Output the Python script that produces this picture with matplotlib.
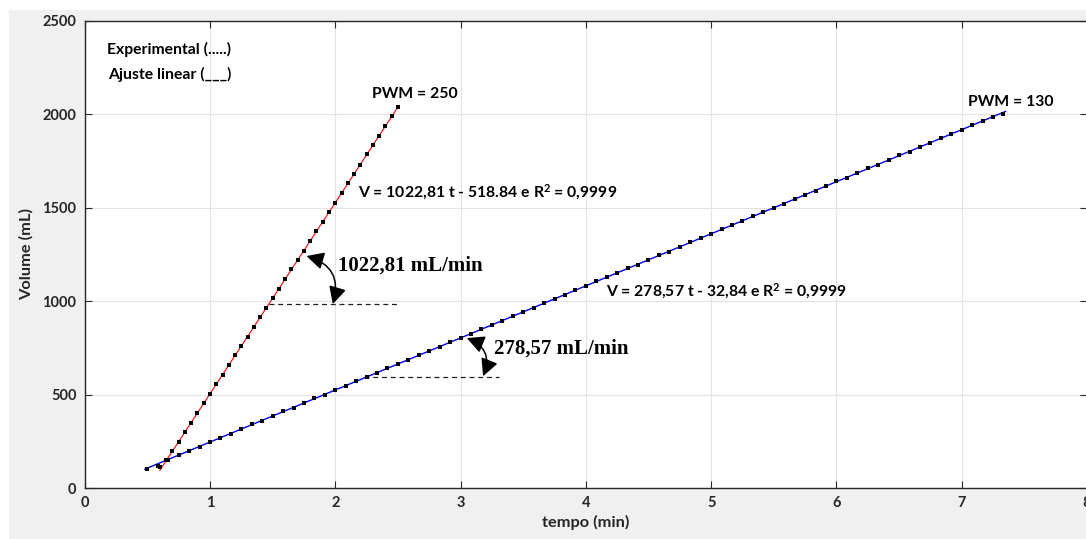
import matplotlib
matplotlib.use("Agg")
import matplotlib.pyplot as plt
from matplotlib.patches import FancyArrowPatch, Rectangle
import numpy as np

plt.rcParams["mathtext.fontset"] = "custom"
plt.rcParams["mathtext.rm"] = "Lato:bold"
plt.rcParams["mathtext.it"] = "Lato:bold"
plt.rcParams["mathtext.bf"] = "Lato:bold"

# ---------------- data ----------------
# PWM = 250 : experimental points (time in seconds, volume in mL)
t250_s = [36, 39, 42, 45, 48, 51, 54, 57, 60, 63, 66, 69, 72, 75, 78, 81, 84, 87, 90,
          93, 96, 99, 102, 105, 108, 111, 114, 117, 120, 123, 126, 129, 132, 135, 138,
          141, 144, 147, 150]
v250 = [110, 150, 200, 245, 300, 350, 400, 455, 505, 555, 605, 660, 710, 760, 810, 860,
        915, 965, 1015, 1065, 1120, 1170, 1220, 1270, 1320, 1375, 1425, 1475, 1525, 1580,
        1630, 1680, 1730, 1785, 1835, 1885, 1935, 1990, 2040]

# PWM = 130 : experimental points (time in seconds, volume in mL)
t130_s = [30, 35, 40, 45, 50, 55, 60, 65, 70, 75, 80, 85, 90, 95, 100, 105, 110, 115, 120,
          125, 130, 135, 140, 145, 150, 155, 160, 165, 170, 175, 180, 185, 190, 195, 200,
          205, 210, 215, 220, 225, 230, 235, 240, 245, 250, 255, 260, 265, 270, 275, 280,
          285, 290, 295, 300, 305, 310, 315, 320, 325, 330, 335, 340, 345, 350, 355, 360,
          365, 370, 375, 380, 385, 390, 395, 400, 405, 410, 415, 420, 425, 430, 435, 440]
v130 = [100, 120, 150, 175, 200, 220, 245, 270, 290, 315, 340, 360, 385, 410, 430, 455,
        480, 500, 525, 545, 570, 595, 615, 640, 665, 685, 710, 735, 755, 780, 805, 825,
        850, 870, 895, 920, 940, 965, 990, 1010, 1035, 1060, 1080, 1105, 1130, 1150, 1175,
        1195, 1220, 1245, 1265, 1290, 1315, 1335, 1360, 1385, 1405, 1430, 1455, 1475, 1500,
        1520, 1545, 1570, 1590, 1615, 1640, 1660, 1685, 1710, 1730, 1755, 1780, 1800, 1825,
        1845, 1870, 1895, 1915, 1940, 1965, 1985, 2000]

# linear fits (slope, intercept) and their time ranges (min)
fit250 = (1022.81, -518.84)
fit250_range = [0.6, 2.5]
fit130 = (278.57, -32.84)
fit130_range = [0.48, 7.35]

xticks = [0, 1, 2, 3, 4, 5, 6, 7, 8]
yticks = [0, 500, 1000, 1500, 2000, 2500]

# ---------------- figure ----------------
W, H = 1086, 539
fig = plt.figure(figsize=(W / 100, H / 100), dpi=100, facecolor="white")
fig.patches.append(Rectangle((9 / W, 0), 1 - 9 / W, 1 - 10 / H, transform=fig.transFigure,
                             facecolor="#f0f0f0", edgecolor="none", zorder=-10))

left, right, bottom, top = 84.7, 1087.0, 488.0, 20.7
ax = fig.add_axes([left / W, (H - bottom) / H, (right - left) / W, (bottom - top) / H])
ax.set_facecolor("white")
ax.set_xlim(0, 8)
ax.set_ylim(0, 2500)
ax.set_xticks(xticks)
ax.set_yticks(yticks)

FONT = "Lato"
tick_col = "#262626"
for s in ax.spines.values():
    s.set_color(tick_col)
    s.set_linewidth(1.0)
ax.tick_params(direction="in", length=5, width=0.8, color=tick_col, top=True, right=True,
               labelsize=10.5, labelcolor=tick_col, pad=6)
for lab in ax.get_xticklabels() + ax.get_yticklabels():
    lab.set_fontfamily(FONT)
    lab.set_fontweight("bold")
ax.grid(True, color="#e3e3e3", linewidth=0.8)
ax.set_axisbelow(True)

ax.set_xlabel("tempo (min)", fontfamily=FONT, fontweight="bold", fontsize=11.8,
              color=tick_col, labelpad=3)
ax.set_ylabel("Volume (mL)", fontfamily=FONT, fontweight="bold", fontsize=11.8,
              color=tick_col, labelpad=6)

# fits
tf = np.array(fit250_range)
ax.plot(tf, fit250[0] * tf + fit250[1], color="red", lw=0.8, zorder=2)
tf = np.array(fit130_range)
ax.plot(tf, fit130[0] * tf + fit130[1], color="blue", lw=1.0, zorder=2)

# experimental points
mk = dict(ls="none", marker="s", ms=2.4, mew=0, color="black", zorder=3)
ax.plot(np.array(t250_s) / 60, v250, **mk)
ax.plot(np.array(t130_s) / 60, v130, **mk)

# texts
tk = dict(fontfamily=FONT, fontweight="bold", color="black", fontsize=11.3)
ax.text(0.18, 2345, "Experimental (.....)", va="center", ha="left", **tk)
ax.text(0.19, 2210, "Ajuste linear (___)", va="center", ha="left", **tk)
ax.text(2.29, 2110, "PWM = 250", va="center", ha="left", **tk)
ax.text(7.05, 2065, "PWM = 130", va="center", ha="left", **tk)
ax.text(2.18, 1582, r"V = 1022,81 t - 518.84 e R$^{2}$ = 0,9999", va="center",
        ha="left", **tk)
ax.text(4.16, 1054, r"V = 278,57 t - 32,84 e R$^{2}$ = 0,9999", va="center",
        ha="left", **tk)

sk = dict(fontfamily="Liberation Serif", fontweight="bold", color="black", fontsize=15)
ax.text(2.02, 1188, "1022,81 mL/min", va="center", ha="left", **sk)
ax.text(3.27, 744, "278,57 mL/min", va="center", ha="left", **sk)

# horizontal dashed reference lines
ax.plot([1.47, 2.49], [984, 984], ls=(0, (4, 3)), color="#202020", lw=0.9, zorder=2)
ax.plot([2.23, 3.31], [592, 592], ls=(0, (4, 3)), color="#202020", lw=0.9, zorder=2)

# curved double arrows (angles)
for a, b in [((1.77, 1241), (1.98, 984)), ((3.05, 802), (3.18, 598))]:
    arr = FancyArrowPatch(a, b, arrowstyle="<|-|>,head_length=0.75,head_width=0.38",
                          connectionstyle="arc3,rad=-0.5", mutation_scale=14,
                          shrinkA=0, shrinkB=0, color="black", lw=1.1, zorder=4)
    ax.add_patch(arr)

fig.savefig("out.png", dpi=100, facecolor=fig.get_facecolor())
